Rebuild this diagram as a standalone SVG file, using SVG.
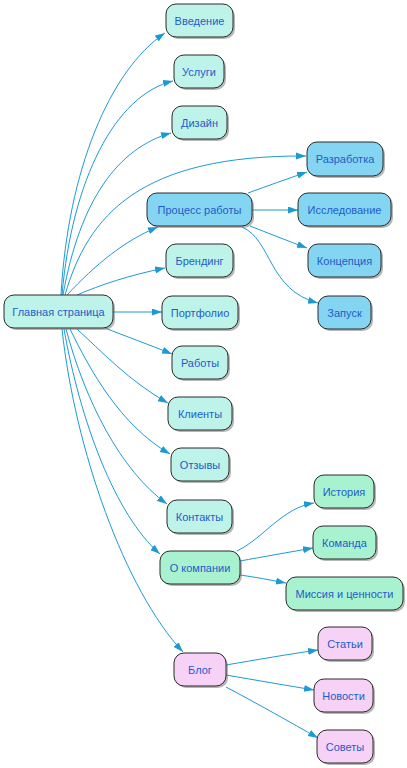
<svg xmlns="http://www.w3.org/2000/svg" width="407" height="768" viewBox="0 0 407 768">
<style>
.n rect.b{stroke:#2b2b2b;stroke-width:1}
.n rect.s{fill:#7a7a7a;opacity:0.55}
.n text{font-family:"Liberation Sans",Arial,sans-serif;font-size:11px;fill:#1f5cc9;text-anchor:middle;dominant-baseline:central}
.c{fill:#bef3ea}.p{fill:#84d5f2}.g{fill:#a8f2d0}.k{fill:#f6d2f7}
#edges path{fill:none;stroke:#1d9ad4;stroke-width:1;marker-end:url(#ah)}
</style>
<defs>
<marker id="ah" markerUnits="userSpaceOnUse" markerWidth="11" markerHeight="8" refX="10" refY="3.5" orient="auto">
<path d="M0,0 L10,3.5 L0,7 z" fill="#1d9ad4"/>
</marker>
</defs>
<rect width="407" height="768" fill="#ffffff"/>
<g id="edges">
<path d="M61,295 C68,170 110,70 165,33"/>
<path d="M62,295 C72,180 115,95 173,81"/>
<path d="M63,295 C80,200 118,148 171,133"/>
<path d="M65,295 C88,215 140,155 306,156"/>
<path d="M67,295 C95,265 125,240 158,227"/>
<path d="M77,295 C100,285 130,275 165,268"/>
<path d="M113,312 L162,312"/>
<path d="M105,328 C125,336 150,345 172,354"/>
<path d="M77,329 C100,350 130,382 168,403"/>
<path d="M70,329 C90,370 120,425 170,454"/>
<path d="M66,329 C85,400 120,470 167,504"/>
<path d="M64,329 C80,420 115,515 160,554"/>
<path d="M62,329 C75,450 125,590 183,652"/>
<path d="M248,193 C267,186 287,179 307,172"/>
<path d="M252,210 L298,210"/>
<path d="M250,226 C268,233 288,241 307,248"/>
<path d="M242,227 C272,240 268,290 318,303"/>
<path d="M237,551 C265,537 282,508 314,503"/>
<path d="M240,561 C262,557 290,552 313,548"/>
<path d="M240,575 C255,577 270,580 286,583"/>
<path d="M226,665 C255,660 290,654 318,650"/>
<path d="M226,675 C255,680 290,686 314,690"/>
<path d="M226,687 C258,704 290,722 318,738"/>
</g>
<g id="n_main" class="n"><rect class="s" x="6" y="297" width="109" height="33" rx="10"/><rect class="b c" x="4" y="295" width="109" height="33" rx="10"/><text x="58.5" y="312">Главная страница</text></g>
<g id="n_intro" class="n"><rect class="s" x="168" y="6" width="67" height="33" rx="10"/><rect class="b c" x="166" y="4" width="67" height="33" rx="10"/><text x="199.5" y="21">Введение</text></g>
<g id="n_services" class="n"><rect class="s" x="176" y="57" width="50" height="33" rx="10"/><rect class="b c" x="174" y="55" width="50" height="33" rx="10"/><text x="199" y="72">Услуги</text></g>
<g id="n_design" class="n"><rect class="s" x="174" y="108" width="55" height="33" rx="10"/><rect class="b c" x="172" y="106" width="55" height="33" rx="10"/><text x="199.5" y="123">Дизайн</text></g>
<g id="n_process" class="n"><rect class="s" x="149" y="195" width="105" height="33" rx="10"/><rect class="b p" x="147" y="193" width="105" height="33" rx="10"/><text x="199.5" y="210">Процесс работы</text></g>
<g id="n_dev" class="n"><rect class="s" x="309" y="144" width="76" height="34" rx="10"/><rect class="b p" x="307" y="142" width="76" height="34" rx="10"/><text x="345" y="159">Разработка</text></g>
<g id="n_research" class="n"><rect class="s" x="300" y="195" width="93" height="33" rx="10"/><rect class="b p" x="298" y="193" width="93" height="33" rx="10"/><text x="344.5" y="210">Исследование</text></g>
<g id="n_concept" class="n"><rect class="s" x="310" y="246" width="73" height="33" rx="10"/><rect class="b p" x="308" y="244" width="73" height="33" rx="10"/><text x="344.5" y="261">Концепция</text></g>
<g id="n_launch" class="n"><rect class="s" x="320" y="298" width="53" height="33" rx="10"/><rect class="b p" x="318" y="296" width="53" height="33" rx="10"/><text x="344.5" y="313">Запуск</text></g>
<g id="n_brand" class="n"><rect class="s" x="168" y="246" width="67" height="33" rx="10"/><rect class="b c" x="166" y="244" width="67" height="33" rx="10"/><text x="199.5" y="261">Брендинг</text></g>
<g id="n_portfolio" class="n"><rect class="s" x="164" y="298" width="76" height="33" rx="10"/><rect class="b c" x="162" y="296" width="76" height="33" rx="10"/><text x="200" y="313">Портфолио</text></g>
<g id="n_works" class="n"><rect class="s" x="174" y="348" width="56" height="33" rx="10"/><rect class="b c" x="172" y="346" width="56" height="33" rx="10"/><text x="200" y="363">Работы</text></g>
<g id="n_clients" class="n"><rect class="s" x="170" y="399" width="64" height="33" rx="10"/><rect class="b c" x="168" y="397" width="64" height="33" rx="10"/><text x="200" y="414">Клиенты</text></g>
<g id="n_reviews" class="n"><rect class="s" x="173" y="450" width="58" height="33" rx="10"/><rect class="b c" x="171" y="448" width="58" height="33" rx="10"/><text x="200" y="465">Отзывы</text></g>
<g id="n_contacts" class="n"><rect class="s" x="169" y="502" width="65" height="33" rx="10"/><rect class="b c" x="167" y="500" width="65" height="33" rx="10"/><text x="199.5" y="517">Контакты</text></g>
<g id="n_about" class="n"><rect class="s" x="162" y="553" width="80" height="33" rx="10"/><rect class="b g" x="160" y="551" width="80" height="33" rx="10"/><text x="200" y="568">О компании</text></g>
<g id="n_history" class="n"><rect class="s" x="316" y="477" width="60" height="33" rx="10"/><rect class="b g" x="314" y="475" width="60" height="33" rx="10"/><text x="344" y="492">История</text></g>
<g id="n_team" class="n"><rect class="s" x="315" y="528" width="63" height="33" rx="10"/><rect class="b g" x="313" y="526" width="63" height="33" rx="10"/><text x="344.5" y="543">Команда</text></g>
<g id="n_mission" class="n"><rect class="s" x="288" y="579" width="117" height="33" rx="10"/><rect class="b g" x="286" y="577" width="117" height="33" rx="10"/><text x="344.5" y="594">Миссия и ценности</text></g>
<g id="n_blog" class="n"><rect class="s" x="176" y="655" width="52" height="33" rx="10"/><rect class="b k" x="174" y="653" width="52" height="33" rx="10"/><text x="200" y="670">Блог</text></g>
<g id="n_articles" class="n"><rect class="s" x="320" y="629" width="54" height="33" rx="10"/><rect class="b k" x="318" y="627" width="54" height="33" rx="10"/><text x="345" y="644">Статьи</text></g>
<g id="n_news" class="n"><rect class="s" x="316" y="681" width="59" height="33" rx="10"/><rect class="b k" x="314" y="679" width="59" height="33" rx="10"/><text x="343.5" y="696">Новости</text></g>
<g id="n_tips" class="n"><rect class="s" x="319" y="732" width="56" height="33" rx="10"/><rect class="b k" x="317" y="730" width="56" height="33" rx="10"/><text x="345" y="747">Советы</text></g>
</svg>
